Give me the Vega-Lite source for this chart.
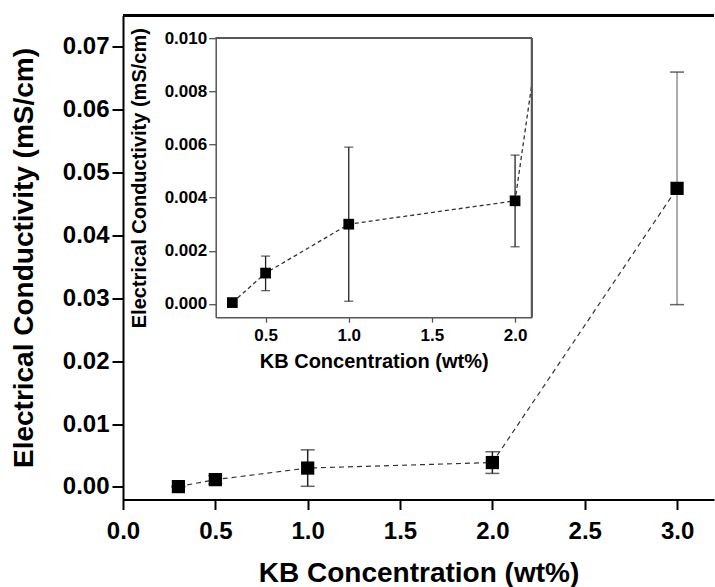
{
  "$schema": "https://vega.github.io/schema/vega-lite/v6.json",
  "autosize": {"type": "pad"},
  "padding": {"left": 10, "top": 13.5, "right": 0, "bottom": 4},
  "background": "white",
  "config": {
    "view": {"stroke": null},
    "font": "Liberation Sans",
    "axis": {
      "grid": false,
      "labelFont": "Liberation Sans",
      "titleFont": "Liberation Sans",
      "labelFontWeight": "bold",
      "titleFontWeight": "bold",
      "labelColor": "black",
      "titleColor": "black",
      "domainColor": "black",
      "tickColor": "black",
      "labelOverlap": false
    }
  },
  "datasets": {
    "ec": [
      {"conc": 0.3, "ec": 0.00005, "lo": 0.00001, "hi": 0.0001},
      {"conc": 0.5, "ec": 0.00116, "lo": 0.0005, "hi": 0.0018},
      {"conc": 1.0, "ec": 0.00300, "lo": 0.0001, "hi": 0.0059},
      {"conc": 2.0, "ec": 0.00388, "lo": 0.00215, "hi": 0.0056},
      {"conc": 3.0, "ec": 0.0475, "lo": 0.029, "hi": 0.066}
    ]
  },
  "bounds": "flush",
  "spacing": 21.7,
  "vconcat": [
    {
      "width": 591,
      "height": 1,
      "data": {"name": "ec"},
      "layer": [
        {
          "mark": {"type": "line", "color": "#333", "strokeWidth": 1.2, "strokeDash": [5, 4]},
          "encoding": {
            "x": {
              "field": "conc", "type": "quantitative",
              "scale": {"domain": [0, 3.2], "zero": false, "nice": false},
              "axis": {
                "title": "KB Concentration (wt%)",
                "offset": 483,
                "values": [0, 0.5, 1, 1.5, 2, 2.5, 3],
                "tickCount": 20,
                "format": ".1f",
                "labelFlush": false,
                "labelFontSize": 24,
                "titleFontSize": 28,
                "tickSize": 10,
                "tickWidth": 2,
                "domainWidth": 2,
                "labelPadding": 10,
                "titlePadding": 16
              }
            },
            "y": {
              "field": "ec", "type": "quantitative",
              "scale": {"domain": [-0.002, 0.075], "range": [484, 0], "zero": false, "nice": false},
              "axis": {
                "title": "Electrical Conductivity (mS/cm)",
                "values": [0, 0.01, 0.02, 0.03, 0.04, 0.05, 0.06, 0.07],
                "tickCount": 20,
                "format": ".2f",
                "labelFontSize": 24,
                "titleFontSize": 28,
                "tickSize": 11,
                "tickWidth": 2,
                "domainWidth": 2,
                "labelPadding": 3,
                "titlePadding": 24
              }
            }
          }
        },
        {
          "mark": {"type": "rule"},
          "encoding": {
            "x": {"field": "conc", "type": "quantitative"},
            "y": {"field": "lo", "type": "quantitative", "title": "Electrical Conductivity (mS/cm)"},
            "y2": {"field": "hi"},
            "color": {"condition": {"test": "datum.conc == 3", "value": "#aaaaaa"}, "value": "#222222"},
            "strokeWidth": {"condition": {"test": "datum.conc == 3", "value": 2}, "value": 1.5}
          }
        },
        {
          "mark": {"type": "tick", "orient": "horizontal", "size": 14, "thickness": 1.5, "color": "#222"},
          "encoding": {
            "x": {"field": "conc", "type": "quantitative"},
            "y": {"field": "lo", "type": "quantitative", "title": "Electrical Conductivity (mS/cm)"}
          }
        },
        {
          "mark": {"type": "tick", "orient": "horizontal", "size": 14, "thickness": 1.5, "color": "#222"},
          "encoding": {
            "x": {"field": "conc", "type": "quantitative"},
            "y": {"field": "hi", "type": "quantitative", "title": "Electrical Conductivity (mS/cm)"}
          }
        },
        {
          "mark": {"type": "square", "size": 175, "filled": true, "color": "black", "opacity": 1},
          "encoding": {
            "x": {"field": "conc", "type": "quantitative"},
            "y": {"field": "ec", "type": "quantitative", "title": "Electrical Conductivity (mS/cm)"}
          }
        },
        {
          "mark": {"type": "rule", "color": "black", "strokeWidth": 3},
          "encoding": {"y": {"datum": 0.075, "type": "quantitative"}}
        }
      ]
    },
    {
      "width": 408.7,
      "height": 279,
      "data": {"name": "ec"},
      "layer": [
        {
          "mark": {"type": "line", "color": "#333", "strokeWidth": 1.3, "strokeDash": [4, 3], "clip": true},
          "encoding": {
            "x": {
              "field": "conc", "type": "quantitative",
              "scale": {"domain": [0.2, 2.1], "range": [92.7, 408.7], "zero": false, "nice": false},
              "axis": {
                "title": "KB Concentration (wt%)",
                "values": [0.5, 1, 1.5, 2],
                "tickCount": 20,
                "format": ".1f",
                "labelFlush": false,
                "labelFontSize": 17,
                "titleFontSize": 20,
                "tickSize": 5,
                "tickWidth": 1.3,
                "domainWidth": 1.5,
                "domainColor": "#555",
                "tickColor": "#555",
                "labelPadding": 5,
                "titlePadding": 8
              }
            },
            "y": {
              "field": "ec", "type": "quantitative",
              "scale": {"domain": [-0.0005, 0.010], "zero": false, "nice": false},
              "axis": {
                "title": "Electrical Conductivity (mS/cm)",
                "offset": -92.7,
                "values": [0, 0.002, 0.004, 0.006, 0.008, 0.010],
                "tickCount": 20,
                "format": ".3f",
                "labelFontSize": 17,
                "titleFontSize": 20,
                "tickSize": 7,
                "tickWidth": 1.3,
                "domainWidth": 1.5,
                "domainColor": "#555",
                "tickColor": "#555",
                "labelPadding": 2,
                "titlePadding": 15
              }
            }
          }
        },
        {
          "transform": [{"filter": "datum.conc <= 2"}],
          "mark": {"type": "rule", "color": "#222", "strokeWidth": 1.3},
          "encoding": {
            "x": {"field": "conc", "type": "quantitative"},
            "y": {"field": "lo", "type": "quantitative", "title": "Electrical Conductivity (mS/cm)"},
            "y2": {"field": "hi"}
          }
        },
        {
          "transform": [{"filter": "datum.conc <= 2"}],
          "mark": {"type": "tick", "orient": "horizontal", "size": 9, "thickness": 1.3, "color": "#222"},
          "encoding": {
            "x": {"field": "conc", "type": "quantitative"},
            "y": {"field": "lo", "type": "quantitative", "title": "Electrical Conductivity (mS/cm)"}
          }
        },
        {
          "transform": [{"filter": "datum.conc <= 2"}],
          "mark": {"type": "tick", "orient": "horizontal", "size": 9, "thickness": 1.3, "color": "#222"},
          "encoding": {
            "x": {"field": "conc", "type": "quantitative"},
            "y": {"field": "hi", "type": "quantitative", "title": "Electrical Conductivity (mS/cm)"}
          }
        },
        {
          "transform": [{"filter": "datum.conc <= 2"}],
          "mark": {"type": "square", "size": 115, "filled": true, "color": "black", "opacity": 1},
          "encoding": {
            "x": {"field": "conc", "type": "quantitative"},
            "y": {"field": "ec", "type": "quantitative", "title": "Electrical Conductivity (mS/cm)"}
          }
        },
        {
          "mark": {"type": "rule", "color": "#555", "strokeWidth": 1.5},
          "encoding": {
            "x": {"datum": 0.2, "type": "quantitative"},
            "x2": {"datum": 2.1},
            "y": {"datum": 0.010, "type": "quantitative"}
          }
        },
        {
          "mark": {"type": "rule", "color": "#555", "strokeWidth": 1.5},
          "encoding": {
            "x": {"datum": 2.1, "type": "quantitative"},
            "y": {"datum": -0.0005, "type": "quantitative"},
            "y2": {"datum": 0.010}
          }
        }
      ]
    }
  ]
}
